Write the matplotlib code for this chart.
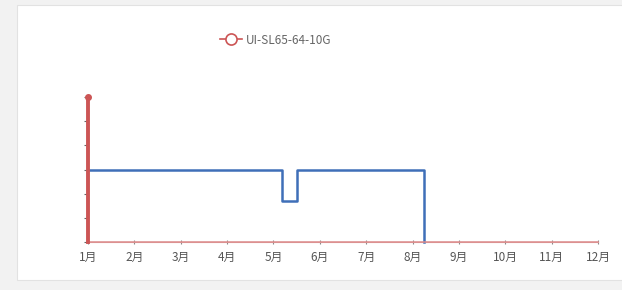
import matplotlib.pyplot as plt
from matplotlib.patches import Rectangle
from matplotlib.lines import Line2D

plt.rcParams['font.family'] = ['Noto Sans CJK SC', 'DejaVu Sans']

# data
months = list(range(1, 13))
month_labels = [f"{m}月" for m in months]

red_name = "UI-SL65-64-10G"
red_x = [1, 1, 12]
red_y = [6, 0, 0]

blue_x = [1, 5.19, 5.19, 5.51, 5.51, 8.25, 8.25]
blue_y = [3, 3, 1.7, 1.7, 3, 3, 0]

RED = "#cc5555"
BLUE = "#3f6fb8"

fig = plt.figure(figsize=(6.22, 2.9), dpi=100)
fig.patch.set_facecolor("#f2f2f2")
fig.patches.append(Rectangle((17 / 622, 10 / 290), 1, 1 - 15 / 290, transform=fig.transFigure,
                             facecolor="white", edgecolor="#e2e2e2", linewidth=0.8,
                             zorder=-10))

ax = fig.add_axes([88 / 622, 48 / 290, 510 / 622, 145 / 290])
ax.set_zorder(2)
ax.set_facecolor("none")

ax.plot(blue_x, blue_y, color=BLUE, linewidth=1.8, zorder=3, clip_on=False)
# red series: thin line along zero, heavy drop at the first month
ax.plot(red_x, red_y, color="#dc8c8c", linewidth=1.1, zorder=4, clip_on=False)
ax.plot(red_x[:2], red_y[:2], color=RED, linewidth=2.8, zorder=4, clip_on=False)
ax.plot(red_x[0], red_y[0], "o", color=RED, markersize=4, zorder=5, clip_on=False)

ax.set_xlim(1, 12)
ax.set_ylim(0, 6)
ax.set_xticks(months)
ax.set_xticklabels(month_labels, fontsize=8.5, color="#555555")
ax.set_yticks(range(0, 7))
ax.set_yticklabels([])
ax.tick_params(axis="x", length=3, direction="inout", color="#888888", pad=5)
ax.tick_params(axis="y", length=3, color="#666666", pad=1)

for side in ["top", "right", "left"]:
    ax.spines[side].set_visible(False)
ax.spines["bottom"].set_color("#dda0a0")

handle = Line2D([], [], color=RED, linewidth=1.2, marker="o", markersize=8,
                markerfacecolor="white", markeredgecolor=RED, markeredgewidth=1.2)
leg = fig.legend([handle], [red_name], loc="center", bbox_to_anchor=(276 / 622, 1 - 40 / 290),
                 frameon=False, fontsize=8.5, handlelength=1.8, handletextpad=0.4,
                 labelcolor="#666666")
leg.set_zorder(3)

fig.savefig("out.png", dpi=100)
